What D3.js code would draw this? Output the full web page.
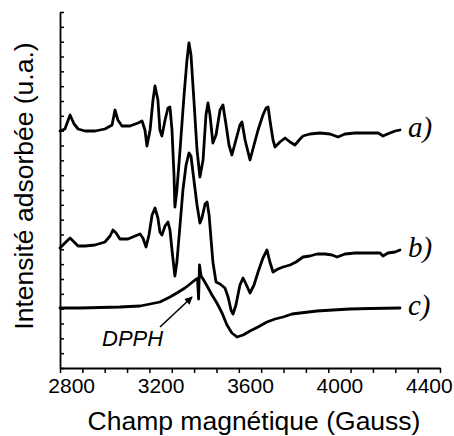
<!DOCTYPE html>
<html>
<head>
<meta charset="utf-8">
<script src="https://cdn.jsdelivr.net/npm/d3@7"></script>
<style>
html,body{margin:0;padding:0;background:#fff;}
svg{display:block;}
</style>
</head>
<body>
<svg id="chart" width="454" height="436"></svg>
<script>
// Magnetic field (Gauss) and intensity (a.u.) for each spectrum
const fieldA = [2750,2772,2795,2813,2831,2862,2907,2951,2983,2996,3009,3027,3063,3099,3117,3130,3139,3153,3166,3175,3188,3197,3206,3220,3233,3242,3251,3260,3264,3273,3287,3305,3318,3327,3336,3349,3363,3376,3390,3403,3412,3421,3434,3448,3466,3479,3493,3506,3519,3537,3555,3564,3578,3600,3618,3636,3658,3672,3681,3689,3703,3712,3734,3757,3779,3801,3824,3837,3868,3913,3958,3994,4025,4070,4137,4173,4195,4226,4249,4271];
const intensA = [237,239,253,244,239,237,237,239,243,258,248,242,242,245,247,238,222,238,268,282,268,238,232,248,260,261,238,193,161,178,218,273,308,325,313,268,218,191,208,253,265,253,225,233,258,263,243,223,213,228,243,246,228,208,223,238,253,260,261,248,228,221,226,230,226,223,229,232,234,235,234,231,234,235,235,235,232,235,237,238];

const fieldB = [2750,2772,2795,2813,2831,2862,2907,2951,2974,2987,3001,3018,3054,3086,3108,3121,3135,3148,3162,3175,3188,3197,3206,3220,3233,3242,3251,3260,3264,3273,3287,3300,3314,3327,3336,3349,3363,3376,3385,3399,3408,3417,3426,3434,3448,3466,3488,3502,3515,3524,3537,3555,3569,3582,3600,3618,3636,3658,3676,3689,3703,3725,3748,3779,3806,3837,3868,3900,3936,3967,3989,4025,4070,4137,4182,4195,4217,4249,4271];
const intensB = [120,125,130,126,122,122,123,126,132,138,135,129,129,132,134,130,121,133,153,160,150,136,133,142,146,138,118,100,92,106,143,178,203,215,212,188,163,145,150,164,166,153,128,106,86,84,80,71,58,54,63,83,90,84,75,83,96,110,118,106,96,99,101,103,106,111,112,114,114,113,111,114,115,115,115,112,115,116,118];

const fieldC = [2750,2839,2929,3018,3108,3153,3197,3242,3273,3309,3332,3354,3365,3370,3374,3381,3390,3408,3430,3452,3475,3497,3519,3542,3569,3600,3636,3676,3712,3748,3788,3824,3900,3971,4047,4137,4271];
const intensC = [60,60,60.5,61,62,64,66,71,75,80,84,88,89.5,69,103,92,89,82,73,65,55,43,35,31,33,37,41,46,49,51,54,55,57,58,59,59.5,60];

const seriesNames = ["a)", "b)", "c)"];
const xLabelTicks = [2800, 3200, 3600, 4000, 4400];
const xMinorTicks = d3.range(2750, 4451, 100);
const yTicks = d3.range(0, 24.5, 1);

const svg = d3.select("#chart");
const x = d3.scaleLinear().domain([2750, 4450]).range([60, 440]);
const y = d3.scaleLinear().domain([0, 356]).range([368, 12]);
const yT = d3.scaleLinear().domain([0, 24]).range([368, 12]);

const line = d3.line().x(d => x(d[0])).y(d => y(d[1])).curve(d3.curveLinear);
const series = [
  d3.zip(fieldA, intensA),
  d3.zip(fieldB, intensB),
  d3.zip(fieldC, intensC)
];
svg.append("g").selectAll("path").data(series).join("path")
  .attr("d", line)
  .attr("fill", "none")
  .attr("stroke", "#000")
  .attr("stroke-width", 2.8)
  .attr("stroke-linejoin", "round")
  .attr("stroke-linecap", "round");

// axes
const xAxis = svg.append("g").attr("transform", "translate(0,368)")
  .call(d3.axisBottom(x).tickValues(xMinorTicks).tickFormat("").tickSizeInner(5).tickSizeOuter(0));
const xLab = svg.append("g").attr("transform", "translate(0,368)")
  .call(d3.axisBottom(x).tickValues(xLabelTicks).tickFormat(d3.format("d")).tickSize(0).tickPadding(10));
xLab.select(".domain").remove();
xLab.selectAll("text").attr("font-family", "Liberation Sans, Arial, sans-serif").attr("font-size", 21).attr("fill", "#000");

const yAxis = svg.append("g").attr("transform", "translate(60,0)")
  .call(d3.axisLeft(yT).tickValues(yTicks).tickFormat("").tickSizeInner(-4).tickSizeOuter(0));

[xAxis, yAxis].forEach(g => {
  g.select(".domain").attr("stroke", "#000").attr("stroke-width", 1.8);
  g.selectAll(".tick line").attr("stroke", "#000").attr("stroke-width", 1.5);
});

// axis titles
svg.append("text").attr("x", 254).attr("y", 430).attr("text-anchor", "middle")
  .attr("font-family", "Liberation Sans, Arial, sans-serif").attr("font-size", 26.5)
  .text("Champ magnétique (Gauss)");
svg.append("text").attr("transform", "translate(33,186) rotate(-90)").attr("text-anchor", "middle")
  .attr("font-family", "Liberation Sans, Arial, sans-serif").attr("font-size", 26.5)
  .text("Intensité adsorbée (u.a.)");

// series labels
const labelEnds = [intensA[intensA.length-1], intensB[intensB.length-1], intensC[intensC.length-1]];
svg.append("g").selectAll("text").data(seriesNames).join("text")
  .attr("x", 408)
  .attr("y", (d, i) => y(labelEnds[i]) + 7)
  .attr("font-family", "Liberation Serif, Times New Roman, serif")
  .attr("font-style", "italic")
  .attr("font-size", 29)
  .text(d => d);

// DPPH annotation
const dpphField = 3372;
svg.append("defs").append("marker").attr("id", "arr")
  .attr("viewBox", "0 0 10 10").attr("refX", 9).attr("refY", 5)
  .attr("markerWidth", 8).attr("markerHeight", 8).attr("markerUnits", "userSpaceOnUse")
  .attr("orient", "auto")
  .append("path").attr("d", "M0,0 L10,5 L0,10 Z").attr("fill", "#000");
svg.append("line")
  .attr("x1", 160).attr("y1", 327)
  .attr("x2", x(dpphField) - 7).attr("y2", y(71))
  .attr("stroke", "#000").attr("stroke-width", 1.6)
  .attr("marker-end", "url(#arr)");
svg.append("text").attr("x", 102).attr("y", 346)
  .attr("font-family", "Liberation Sans, Arial, sans-serif").attr("font-style", "italic")
  .attr("font-size", 22).text("DPPH");
</script>
</body>
</html>
